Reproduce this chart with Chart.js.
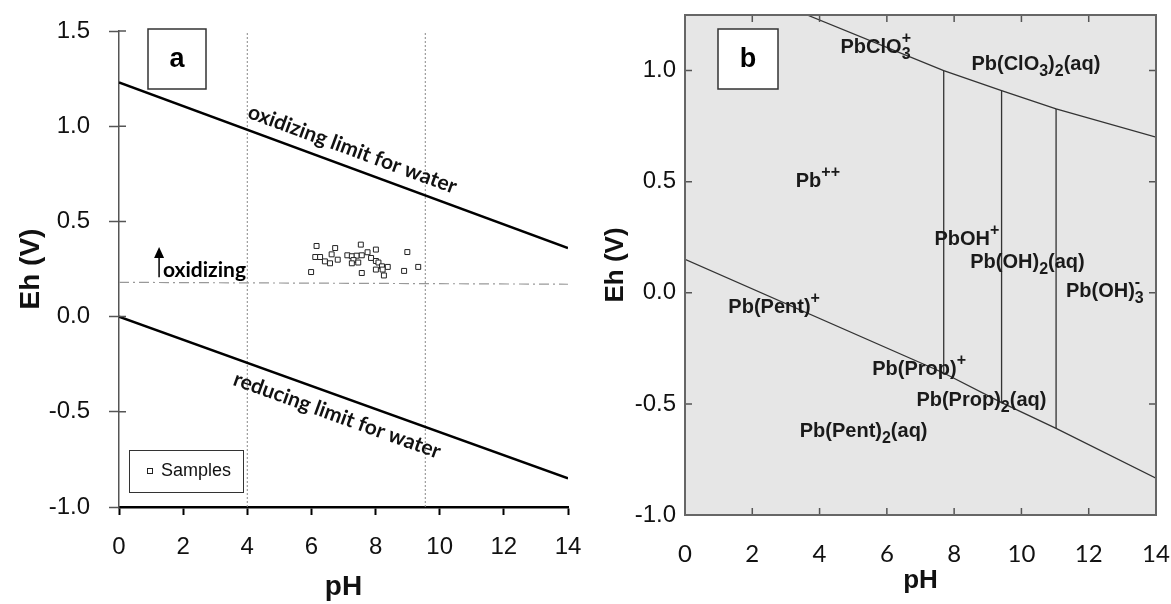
<!DOCTYPE html>
<html>
<head>
<meta charset="utf-8">
<script src="https://cdn.jsdelivr.net/npm/chart.js@4.4.1/dist/chart.umd.min.js"></script>
<style>
  body { margin: 0; background: #fff; width: 1171px; height: 604px; overflow: hidden; position: relative; }
  #chartA { position: absolute; left: 0; top: 0; }
  #chartB { position: absolute; left: 600px; top: 0; }
</style>
</head>
<body>
<canvas id="chartA" width="600" height="604"></canvas>
<canvas id="chartB" width="571" height="604"></canvas>
<script>
// ======= PANEL A DATA =======
const phTicks = [0, 2, 4, 6, 8, 10, 12, 14];
const ehTicksA = [-1.0, -0.5, 0.0, 0.5, 1.0, 1.5];

const sampleLabel = 'Samples';
const samplePH = [6.16, 6.74, 7.54, 8.01, 6.12, 6.27, 6.63, 6.82, 6.42, 6.58,
                  7.12, 7.26, 7.41, 7.57, 7.75, 7.31, 7.46, 7.26, 7.86, 8.01,
                  8.09, 8.20, 8.38, 8.22, 8.01, 8.26, 5.99, 7.57, 8.99, 8.89, 9.33];
const sampleEh = [0.371, 0.360, 0.378, 0.352, 0.313, 0.313, 0.327, 0.299, 0.290, 0.280,
                  0.322, 0.317, 0.320, 0.322, 0.338, 0.297, 0.284, 0.280, 0.308, 0.292,
                  0.284, 0.264, 0.261, 0.247, 0.247, 0.216, 0.234, 0.229, 0.339, 0.240, 0.261];

const oxLimitPH = [0, 14];
const oxLimitEh = [1.23, 0.36];
const redLimitPH = [0, 14];
const redLimitEh = [0.0, -0.85];
const refLinePH = [0, 14];
const refLineEh = [0.18, 0.17];
const boundaryPH = [4.0, 9.55];

// ======= PANEL B DATA =======
const ehTicksB = [-1.0, -0.5, 0.0, 0.5, 1.0];
const upperPH = [3.63, 7.69, 9.41, 11.03, 14];
const upperEh = [1.25, 1.0, 0.91, 0.828, 0.70];
const lowerPH = [0, 7.69, 9.41, 11.03, 14];
const lowerEh = [0.151, -0.361, -0.494, -0.61, -0.834];
const fieldPH = [7.69, 9.41, 11.03];      // vertical boundaries between fields
const fieldTopEh = [1.0, 0.91, 0.828];
const fieldBottomEh = [-0.361, -0.494, -0.61];

const speciesText = ['PbClO_{3}^{+}', 'Pb(ClO_{3})_{2}(aq)', 'Pb^{++}', 'PbOH^{+}', 'Pb(OH)_{2}(aq)',
                     'Pb(OH)_{3}^{-}', 'Pb(Pent)^{+}', 'Pb(Prop)^{+}', 'Pb(Prop)_{2}(aq)', 'Pb(Pent)_{2}(aq)'];
const speciesPH = [5.67, 10.43, 3.95, 8.38, 10.18, 12.48, 2.65, 6.96, 8.81, 5.31];
const speciesEh = [1.112, 1.037, 0.507, 0.248, 0.143, 0.015, -0.057, -0.339, -0.479, -0.617];

// ======= HELPERS =======
const pts = (xs, ys) => xs.map((v, i) => ({ x: v, y: ys[i] }));
const fixedTicks = list => scale => { scale.ticks = list.map(v => ({ value: v })); };
// fixed axis box size, and no extra room asked for the edge labels
const fixBox = (w, h) => s => {
  if (w) s.width = w;
  if (h) s.height = h;
  s.paddingLeft = s.paddingRight = s.paddingTop = s.paddingBottom = 0;
};

// Draws text with _{sub} and ^{sup} parts, centred on (cx, cy)
function drawRich(ctx, str, cx, cy, size, color) {
  const re = /([_^])\{([^}]*)\}|([^_^]+)/g;
  const parts = [];
  let m;
  while ((m = re.exec(str)) !== null) {
    if (m[3]) parts.push({ t: m[3], k: 'n' });
    else parts.push({ t: m[2], k: m[1] === '_' ? 'sub' : 'sup' });
  }
  const fBig = 'bold ' + size + 'px "Liberation Sans", Arial, sans-serif';
  const fSmall = 'bold ' + Math.round(size * 0.8) + 'px "Liberation Sans", Arial, sans-serif';
  let x = 0, prev = null;
  parts.forEach(p => {
    ctx.font = p.k === 'n' ? fBig : fSmall;
    p.w = ctx.measureText(p.t).width;
    if (p.k === 'sup' && prev && prev.k === 'sub') { p.x = prev.x; x = Math.max(x, p.x + p.w); }
    else { p.x = x; x += p.w; }
    prev = p;
  });
  const left = cx - x / 2, base = cy + size * 0.36;
  ctx.save();
  ctx.fillStyle = color;
  ctx.textAlign = 'left';
  ctx.textBaseline = 'alphabetic';
  parts.forEach(p => {
    ctx.font = p.k === 'n' ? fBig : fSmall;
    const dy = p.k === 'sub' ? size * 0.3 : p.k === 'sup' ? -size * 0.5 : 0;
    ctx.fillText(p.t, left + p.x, base + dy);
  });
  ctx.restore();
}

// Text rotated along a straight line, offset perpendicular to it
function labelAlong(chart, text, xs, ys, atPH, offset) {
  const { ctx, scales: { x, y } } = chart;
  const n = xs.length - 1;
  const ang = Math.atan2(y.getPixelForValue(ys[n]) - y.getPixelForValue(ys[0]),
                         x.getPixelForValue(xs[n]) - x.getPixelForValue(xs[0]));
  const eh = ys[0] + (atPH - xs[0]) / (xs[n] - xs[0]) * (ys[n] - ys[0]);
  ctx.save();
  ctx.translate(x.getPixelForValue(atPH), y.getPixelForValue(eh));
  ctx.rotate(ang);
  ctx.font = 'bold 21px Lato, sans-serif';
  ctx.fillStyle = '#111';
  ctx.textAlign = 'center';
  ctx.textBaseline = 'middle';
  ctx.fillText(text, 0, offset);
  ctx.restore();
}

function letterBox(ctx, letter, x0, y0, w, h) {
  ctx.save();
  ctx.fillStyle = '#fff';
  ctx.strokeStyle = '#333';
  ctx.lineWidth = 1.5;
  ctx.fillRect(x0, y0, w, h);
  ctx.strokeRect(x0, y0, w, h);
  ctx.fillStyle = '#000';
  ctx.font = 'bold 27px "Liberation Sans", Arial, sans-serif';
  ctx.textAlign = 'center';
  ctx.textBaseline = 'middle';
  ctx.fillText(letter, x0 + w / 2, y0 + h / 2 + 1);
  ctx.restore();
}

// ======= PANEL A EXTRAS =======
const panelAExtras = {
  id: 'panelAExtras',
  afterDraw(chart) {
    const { ctx, chartArea, scales: { x, y } } = chart;

    // y ticks cross the axis: add the inner half
    ctx.save();
    ctx.strokeStyle = '#555';
    ctx.lineWidth = 1.5;
    ctx.beginPath();
    y.ticks.forEach(t => {
      const py = y.getPixelForValue(t.value);
      if (t.value > -1) { ctx.moveTo(chartArea.left, py); ctx.lineTo(chartArea.left + 7, py); }
    });
    ctx.stroke();
    ctx.restore();

    letterBox(ctx, 'a', 148, 29, 58, 60);

    labelAlong(chart, 'oxidizing limit for water', oxLimitPH, oxLimitEh, 7.08, -18);
    labelAlong(chart, 'reducing limit for water', redLimitPH, redLimitEh, 7.0, 19);

    // arrow + "oxidizing"
    const ax = x.getPixelForValue(1.25), ayTop = y.getPixelForValue(0.365), ayBot = y.getPixelForValue(0.207);
    ctx.save();
    ctx.strokeStyle = '#000';
    ctx.fillStyle = '#000';
    ctx.lineWidth = 1.5;
    ctx.beginPath();
    ctx.moveTo(ax, ayBot);
    ctx.lineTo(ax, ayTop + 8);
    ctx.stroke();
    ctx.beginPath();
    ctx.moveTo(ax, ayTop);
    ctx.lineTo(ax - 5, ayTop + 11);
    ctx.lineTo(ax + 5, ayTop + 11);
    ctx.closePath();
    ctx.fill();
    ctx.font = 'bold 21px Lato, sans-serif';
    ctx.textAlign = 'left';
    ctx.textBaseline = 'alphabetic';
    ctx.fillText('oxidizing', x.getPixelForValue(1.37), ayBot);
    ctx.restore();

    // legend box
    const lx = chartArea.left + 10, ly = chartArea.bottom - 57;
    ctx.save();
    ctx.fillStyle = '#fff';
    ctx.strokeStyle = '#333';
    ctx.lineWidth = 1;
    ctx.fillRect(lx, ly, 114, 42);
    ctx.strokeRect(lx + 0.5, ly + 0.5, 114, 42);
    ctx.strokeStyle = '#222';
    ctx.strokeRect(lx + 18.5, ly + 18.5, 5, 5);
    ctx.fillStyle = '#111';
    ctx.font = '18px "Liberation Sans", Arial, sans-serif';
    ctx.textBaseline = 'middle';
    ctx.fillText(chart.data.datasets[0].label, lx + 32, ly + 21);
    ctx.restore();
  }
};

// ======= PANEL B EXTRAS =======
const panelBExtras = {
  id: 'panelBExtras',
  beforeDraw(chart) {
    const { ctx, chartArea: a } = chart;
    ctx.save();
    ctx.fillStyle = '#e6e6e6';
    ctx.fillRect(a.left, a.top, a.right - a.left, a.bottom - a.top);
    ctx.restore();
  },
  afterDraw(chart) {
    const { ctx, chartArea: a, scales: { x, y } } = chart;
    ctx.save();
    ctx.strokeStyle = '#555';
    ctx.lineWidth = 1.5;
    ctx.beginPath();
    x.ticks.forEach(t => {
      const px = x.getPixelForValue(t.value);
      ctx.moveTo(px, a.bottom); ctx.lineTo(px, a.bottom - 7);
      ctx.moveTo(px, a.top); ctx.lineTo(px, a.top + 7);
    });
    y.ticks.forEach(t => {
      const py = y.getPixelForValue(t.value);
      ctx.moveTo(a.left, py); ctx.lineTo(a.left + 7, py);
      ctx.moveTo(a.right, py); ctx.lineTo(a.right - 7, py);
    });
    ctx.stroke();
    ctx.strokeStyle = '#666';
    ctx.lineWidth = 2;
    ctx.strokeRect(a.left, a.top, a.right - a.left, a.bottom - a.top);
    ctx.restore();

    speciesText.forEach((s, i) => {
      drawRich(ctx, s, x.getPixelForValue(speciesPH[i]), y.getPixelForValue(speciesEh[i]), 20, '#1a1a1a');
    });
    letterBox(ctx, 'b', 118, 29, 60, 60);
  }
};

// ======= CHART A =======
new Chart(document.getElementById('chartA'), {
  type: 'scatter',
  data: {
    datasets: [
      { label: sampleLabel, data: pts(samplePH, sampleEh), pointStyle: 'rect', pointRadius: 3.5,
        backgroundColor: '#fff', borderColor: '#222', borderWidth: 1 },
      { data: pts(oxLimitPH, oxLimitEh), showLine: true, borderColor: '#000', borderWidth: 2.5, pointRadius: 0 },
      { data: pts(redLimitPH, redLimitEh), showLine: true, borderColor: '#000', borderWidth: 2.5, pointRadius: 0 },
      { data: pts(refLinePH, refLineEh), showLine: true, borderColor: '#999', borderWidth: 1.2,
        borderDash: [10, 4, 2, 4], pointRadius: 0 },
      { data: pts([boundaryPH[0], boundaryPH[0]], [-1.0, 1.5]), showLine: true, borderColor: '#888',
        borderWidth: 1, borderDash: [2, 2], pointRadius: 0 },
      { data: pts([boundaryPH[1], boundaryPH[1]], [-1.0, 1.5]), showLine: true, borderColor: '#888',
        borderWidth: 1, borderDash: [2, 2], pointRadius: 0 }
    ]
  },
  options: {
    responsive: false,
    animation: false,
    layout: { autoPadding: false, padding: { left: 0, right: 32, top: 31, bottom: 0 } },
    plugins: { legend: { display: false }, tooltip: { enabled: false } },
    scales: {
      x: {
        min: 0, max: 14,
        afterBuildTicks: fixedTicks(phTicks),
        afterFit: fixBox(0, 97),
        ticks: { font: { family: 'Liberation Sans', size: 24 }, color: '#111', padding: 18 },
        grid: { drawOnChartArea: false, tickLength: 8, tickColor: '#000', tickWidth: 2 },
        border: { color: '#000', width: 2.5 },
        title: { display: true, text: 'pH', color: '#111', padding: 0,
                 font: { family: 'Liberation Sans', size: 28, weight: 'bold' } }
      },
      y: {
        min: -1.0, max: 1.5,
        afterBuildTicks: fixedTicks(ehTicksA),
        afterFit: fixBox(119, 0),
        ticks: { font: { family: 'Liberation Sans', size: 24 }, color: '#111', padding: 19,
                 callback: v => v.toFixed(1) },
        grid: { drawOnChartArea: false, tickLength: 10, tickColor: '#555', tickWidth: 1.5 },
        border: { color: '#555', width: 1.5 },
        title: { display: true, text: 'Eh (V)', color: '#111', padding: { top: 14, bottom: 0 },
                 font: { family: 'Liberation Sans', size: 28, weight: 'bold' } }
      }
    }
  },
  plugins: [panelAExtras]
});

// ======= CHART B =======
const fieldLines = fieldPH.map((p, i) => ({
  data: pts([p, p], [fieldTopEh[i], fieldBottomEh[i]]), showLine: true,
  borderColor: '#333', borderWidth: 1.3, pointRadius: 0
}));

new Chart(document.getElementById('chartB'), {
  type: 'scatter',
  data: {
    datasets: [
      { data: pts(upperPH, upperEh), showLine: true, borderColor: '#333', borderWidth: 1.3, pointRadius: 0 },
      { data: pts(lowerPH, lowerEh), showLine: true, borderColor: '#333', borderWidth: 1.3, pointRadius: 0 },
      ...fieldLines
    ]
  },
  options: {
    responsive: false,
    animation: false,
    layout: { autoPadding: false, padding: { left: 0, right: 15, top: 15, bottom: 0 } },
    plugins: { legend: { display: false }, tooltip: { enabled: false } },
    scales: {
      x: {
        min: 0, max: 14,
        afterBuildTicks: fixedTicks(phTicks),
        afterFit: fixBox(0, 89),
        ticks: { font: { family: 'Lato', size: 24 }, color: '#111', padding: 17 },
        grid: { display: false },
        border: { display: false },
        title: { display: true, text: 'pH', color: '#111', padding: { top: 0, bottom: 8 },
                 font: { family: 'Liberation Sans', size: 26, weight: 'bold' } }
      },
      y: {
        min: -1.0, max: 1.25,
        afterBuildTicks: fixedTicks(ehTicksB),
        afterFit: fixBox(85, 0),
        ticks: { font: { family: 'Liberation Sans', size: 24 }, color: '#111', padding: 1,
                 callback: v => v.toFixed(1) },
        grid: { display: false },
        border: { display: false },
        title: { display: true, text: 'Eh (V)', color: '#111', padding: { top: 0, bottom: 0 },
                 font: { family: 'Liberation Sans', size: 26, weight: 'bold' } }
      }
    }
  },
  plugins: [panelBExtras]
});
</script>
</body>
</html>
